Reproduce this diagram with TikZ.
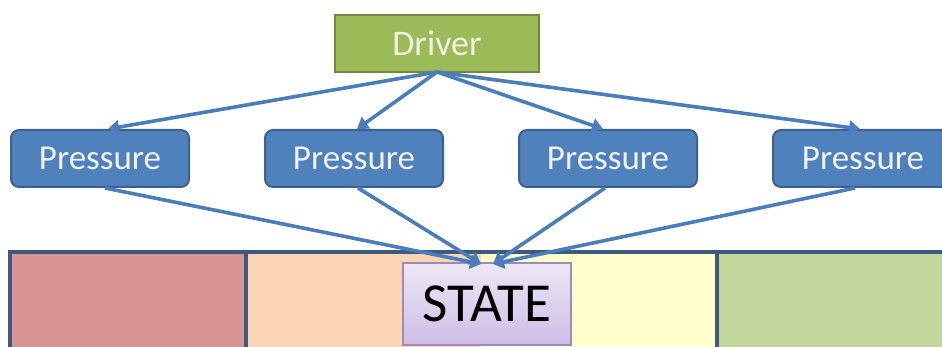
\documentclass[tikz,border=0pt]{standalone}
\usepackage{fontspec}
\setmainfont{Carlito}
\usetikzlibrary{arrows.meta}
\definecolor{pfill}{HTML}{4F81BD}
\definecolor{pdraw}{HTML}{3A6190}
\definecolor{dfill}{HTML}{9BBB59}
\definecolor{ddraw}{HTML}{71893F}
\definecolor{dtext}{HTML}{EEF3E2}
\definecolor{arr}{HTML}{4A7EBB}
\definecolor{band}{HTML}{3D5A7E}
\definecolor{cred}{HTML}{D99594}
\definecolor{cpeach}{HTML}{FBD4B4}
\definecolor{cyellow}{HTML}{FFFFCC}
\definecolor{cgreen}{HTML}{C3D69B}
\definecolor{stop}{HTML}{EDE8F5}
\definecolor{sbot}{HTML}{CDBDE6}
\definecolor{sdraw}{HTML}{9B8DB3}
\tikzset{
  pbox/.style={draw=pdraw, line width=2pt, fill=pfill, rounded corners=8pt, text=white!95!black,
    minimum width=178pt, minimum height=57pt, font=\fontsize{35}{35}\selectfont, inner sep=0pt},
  dbox/.style={draw=ddraw, line width=2pt, fill=dfill, text=dtext,
    minimum width=204pt, minimum height=57pt, font=\fontsize{36}{36}\selectfont, inner sep=0pt},
  sbox/.style={draw=sdraw, line width=1.2pt, top color=stop, bottom color=sbot,
    minimum width=168pt, minimum height=82pt, font=\fontsize{55}{55}\selectfont, inner sep=0pt},
  conn/.style={draw=arr, line width=3.6pt, -{Triangle[length=11pt,width=14pt]}},
  divline/.style={draw=band, line width=3.5pt}
}
\begin{document}
\begin{tikzpicture}[x=1pt,y=-1pt]
\useasboundingbox (0,0) rectangle (942,347);
% band
\fill[cred] (10,252) rectangle (246,347);
\fill[cpeach] (246,252) rectangle (481,347);
\fill[cyellow] (481,252) rectangle (717,347);
\fill[cgreen] (717,252) rectangle (942,347);
\draw[divline] (10,349) -- (10,252) -- (944,252);
\draw[divline] (246,252) -- (246,349);
\draw[divline] (717,252) -- (717,349);
% nodes
\node[dbox] (drv) at (437,43.5) {Driver};
\node[pbox] (p1) at (100,158.5) {Pressure};
\node[pbox] (p2) at (354,158.5) {Pressure};
\node[pbox] (p3) at (608,158.5) {Pressure};
\node[pbox, minimum width=180pt] (p4) at (863,158.5) {Pressure};
\node[sbox] (st) at (487,304) {STATE};
\coordinate (dsrc) at (437,72);
\coordinate (sl) at (481,264);
\coordinate (sr) at (493,264);
% connectors
\draw[conn] (dsrc) -- (p1.north -| 108,0);
\draw[conn] (dsrc) -- (p2.north -| 357,0);
\draw[conn] (dsrc) -- (p3.north -| 603,0);
\draw[conn] (dsrc) -- (p4.north -| 860,0);
\draw[conn] (p1.south -| 105,0) -- (sl);
\draw[conn] (p2.south -| 358,0) -- (sl);
\draw[conn] (p3.south -| 605,0) -- (sr);
\draw[conn] (p4.south -| 855,0) -- (sr);
\end{tikzpicture}
\end{document}
